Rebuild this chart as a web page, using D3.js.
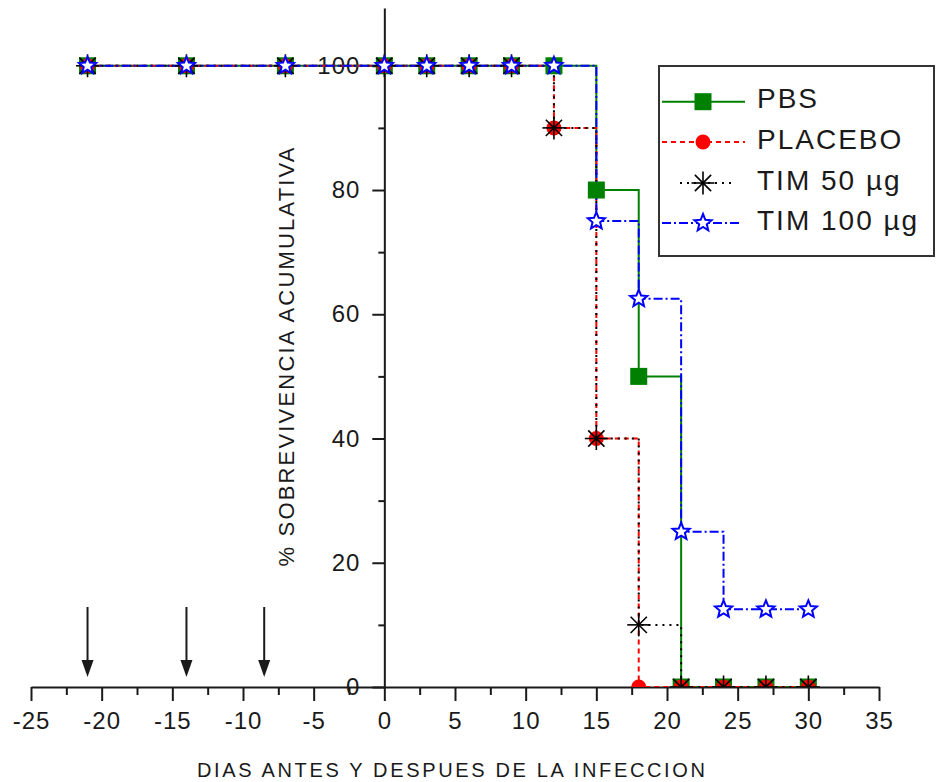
<!DOCTYPE html>
<html><head><meta charset="utf-8">
<script src="https://cdn.jsdelivr.net/npm/d3@7"></script>
<style>body{margin:0;background:#fff;} svg{display:block;font-family:"Liberation Sans",Arial,sans-serif;}</style>
</head><body>
<script>
// ---- data ----
const days    = [-21,-14,-7,0,3,6,9,12,15,18,21,24,27,30];
const pbs     = [100,100,100,100,100,100,100,100,80,50,0,0,0,0];
const placebo = [100,100,100,100,100,100,100,90,40,0,0,0,0,0];
const tim50   = [100,100,100,100,100,100,100,90,40,10,0,0,0,0];
const tim100  = [100,100,100,100,100,100,100,100,75,62.5,25,12.5,12.5,12.5];
const seriesNames = ["PBS","PLACEBO","TIM 50 µg","TIM 100 µg"];
const arrowDays = [-21,-14,-8.5];
const xTicks = [-25,-20,-15,-10,-5,0,5,10,15,20,25,30,35];
const xMinorTicks = [-22.5,-17.5,-12.5,-7.5,-2.5,2.5,7.5,12.5,17.5,22.5,27.5,32.5];
const yTicks = [0,20,40,60,80,100];
const yMinorTicks = [10,30,50,70,90];
const xTitle = "DIAS ANTES Y DESPUES DE LA INFECCION";
const yTitle = "% SOBREVIVENCIA ACUMULATIVA";

const W = 939, H = 782;
const svg = d3.select("body").append("svg").attr("width", W).attr("height", H);

const x = d3.scaleLinear().domain([-25, 35]).range([31, 879]);
const y = d3.scaleLinear().domain([0, 109.3]).range([687, 8]);
const ink = "#1a1a1a";
const fmt = d => String(d);

// clip
svg.append("clipPath").attr("id","plotclip").append("rect")
  .attr("x", 0).attr("y", 0).attr("width", W).attr("height", y(0));

// ---- axes ----
const xAxis = svg.append("g").attr("transform", `translate(0,${y(0)})`)
  .call(d3.axisBottom(x).tickValues(xTicks).tickSize(14).tickPadding(11).tickSizeOuter(0).tickFormat(fmt));
const xMinor = svg.append("g").attr("transform", `translate(0,${y(0)})`)
  .call(d3.axisBottom(x).tickValues(xMinorTicks).tickSize(8).tickSizeOuter(0).tickFormat(""));
xMinor.select(".domain").remove();

const yAxis = svg.append("g").attr("transform", `translate(${x(0)},0)`)
  .call(d3.axisLeft(y).tickValues(yTicks).tickSize(12).tickPadding(12).tickSizeOuter(0).tickFormat(fmt));
const yMinor = svg.append("g").attr("transform", `translate(${x(0)},0)`)
  .call(d3.axisLeft(y).tickValues(yMinorTicks).tickSize(6).tickSizeOuter(0).tickFormat(""));
yMinor.select(".domain").remove();

svg.selectAll(".domain").attr("stroke", ink).attr("stroke-width", 2);
svg.selectAll(".tick line").attr("stroke", ink).attr("stroke-width", 2);
svg.selectAll(".tick text").attr("fill", ink).attr("font-size", 24)
  .attr("font-family", '"Liberation Sans",Arial,sans-serif').style("letter-spacing", "1px");

// axis titles
svg.append("text").attr("x", 451).attr("y", 777).attr("text-anchor", "middle")
  .attr("font-size", 20).attr("fill", ink).attr("textLength", 508).attr("lengthAdjust", "spacing")
  .text(xTitle);
svg.append("text").attr("transform", "translate(294,357) rotate(-90)").attr("text-anchor", "middle")
  .attr("font-size", 22).attr("fill", ink).attr("textLength", 419).attr("lengthAdjust", "spacing")
  .text(yTitle);

// ---- arrows ----
const ag = svg.append("g");
arrowDays.forEach(d => {
  const ax = x(d);
  ag.append("line").attr("x1", ax).attr("x2", ax).attr("y1", 607).attr("y2", 664)
    .attr("stroke", ink).attr("stroke-width", 2);
  ag.append("path").attr("d", `M${ax-6},660 L${ax+6},660 L${ax},677 Z`).attr("fill", ink);
});

// ---- series ----
const series = [
  {name: seriesNames[0], vals: pbs,     color: "#008000", dash: null,      marker: "square"},
  {name: seriesNames[1], vals: placebo, color: "#ff0000", dash: "5,4",     marker: "circle"},
  {name: seriesNames[2], vals: tim50,   color: "#000000", dash: "2,5",     marker: "asterisk"},
  {name: seriesNames[3], vals: tim100,  color: "#0000ff", dash: "9,3,2,3", marker: "star"}
];

const line = d3.line().x(d => x(d[0])).y(d => y(d[1])).curve(d3.curveStepAfter);
const plot = svg.append("g").attr("clip-path", "url(#plotclip)");

series.forEach(s => {
  plot.append("path").datum(days.map((d, i) => [d, s.vals[i]]))
    .attr("d", line).attr("fill", "none").attr("stroke", s.color)
    .attr("stroke-width", 2).attr("stroke-dasharray", s.dash);
});

function starPath(ro, ri) {
  const pts = [];
  for (let k = 0; k < 10; k++) {
    const r = k % 2 ? ri : ro;
    const a = -Math.PI / 2 + k * Math.PI / 5;
    pts.push([r * Math.cos(a), r * Math.sin(a)]);
  }
  return "M" + pts.map(p => p[0].toFixed(2) + "," + p[1].toFixed(2)).join("L") + "Z";
}
function drawMarker(g, type, cx, cy, color) {
  const m = g.append("g").attr("transform", `translate(${cx},${cy})`);
  if (type === "square") {
    m.append("rect").attr("x", -8.5).attr("y", -8.5).attr("width", 17).attr("height", 17).attr("fill", color);
  } else if (type === "circle") {
    m.append("circle").attr("r", 7.5).attr("fill", color);
  } else if (type === "asterisk") {
    const r = 11.5;
    [0, 45, 90, 135].forEach(a => {
      const c = Math.cos(a * Math.PI / 180) * r, sn = Math.sin(a * Math.PI / 180) * r;
      m.append("line").attr("x1", -c).attr("y1", -sn).attr("x2", c).attr("y2", sn)
        .attr("stroke", color).attr("stroke-width", 1.6);
    });
  } else if (type === "star") {
    m.append("path").attr("d", starPath(9, 4)).attr("fill", "#fff")
      .attr("stroke", color).attr("stroke-width", 2).attr("stroke-linejoin", "miter");
  }
}
series.forEach(s => {
  days.forEach((d, i) => drawMarker(plot, s.marker, x(d), y(s.vals[i]), s.color));
});

// ---- legend ----
const lg = svg.append("g");
lg.append("rect").attr("x", 659).attr("y", 66).attr("width", 275).attr("height", 190)
  .attr("fill", "#fff").attr("stroke", "#333").attr("stroke-width", 2);
const rowY = [101.7, 142, 183, 223];
series.forEach((s, i) => {
  const ly = rowY[i];
  const x1 = s.marker === "asterisk" ? 680 : 662;
  const x2 = s.marker === "asterisk" ? 733 : (s.marker === "star" ? 742 : 745);
  lg.append("line").attr("x1", x1).attr("x2", x2).attr("y1", ly).attr("y2", ly)
    .attr("stroke", s.color).attr("stroke-width", 2).attr("stroke-dasharray", s.dash);
  drawMarker(lg, s.marker, 703, ly, s.color);
  lg.append("text").attr("x", 757).attr("y", ly + 6.5).attr("font-size", 28).attr("fill", ink)
    .style("letter-spacing", "2px").text(s.name);
});
</script>
</body></html>
